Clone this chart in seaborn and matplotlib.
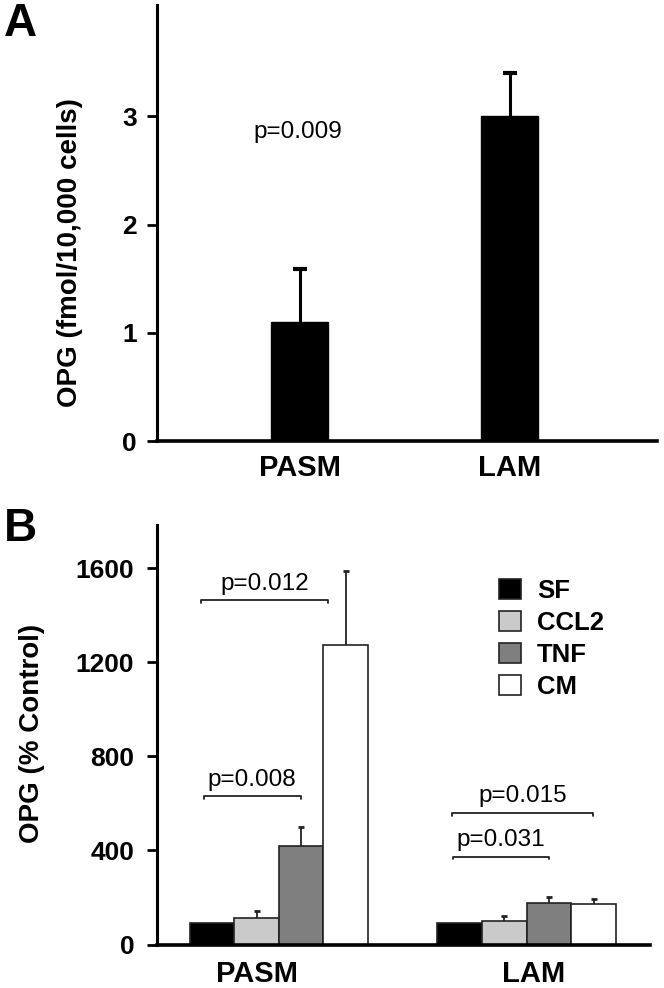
import matplotlib
matplotlib.use("Agg")
import matplotlib.pyplot as plt
import seaborn as sns
import pandas as pd

# panel A
cells = ["PASM", "LAM"]
opg_fmol = [1.1, 3.0]
opg_fmol_err = [0.49, 0.40]

# panel B
treatments = ["SF", "CCL2", "TNF", "CM"]
opg_pasm = [90, 114, 417, 1275]
opg_pasm_err = [0, 28, 82, 313]
opg_lam = [90, 102, 177, 173]
opg_lam_err = [0, 21, 27, 21]
colors = ["#000000", "#cacaca", "#7f7f7f", "#ffffff"]

# brackets: (x0, x1, y, label)
brackets = [(-0.315, 0.198, 1464, "p=0.012"),
            (-0.303, 0.088, 631, "p=0.008"),
            (0.699, 1.268, 560, "p=0.015"),
            (0.702, 1.089, 374, "p=0.031")]

sns.set_style("ticks")
plt.rcParams["font.family"] = ["Liberation Sans", "DejaVu Sans"]
plt.rcParams.update({"text.color": "black", "axes.labelcolor": "black",
                     "xtick.color": "black", "ytick.color": "black",
                     "axes.edgecolor": "black"})

fig = plt.figure(figsize=(6.64, 9.88), dpi=100)


def up_errorbar(ax, bar, e, **kw):
    # one-sided error bar, only the upper cap
    eb = ax.errorbar(bar.get_x() + bar.get_width() / 2, bar.get_height(),
                     yerr=[[0], [e]], fmt="none", **kw)
    eb[1][0].set_visible(False)


# ---------------- panel A ----------------
axA = fig.add_axes([156.5 / 664, 1 - 441 / 988, (657 - 156.5) / 664, (441 - 5) / 988])
sns.barplot(x=cells, y=opg_fmol, color="black", saturation=1, width=0.27,
            edgecolor="black", ax=axA)
for bar, e in zip(list(axA.patches), opg_fmol_err):
    up_errorbar(axA, bar, e, ecolor="black", elinewidth=2.2, capsize=4.8, capthick=3)
axA.set_xlim(-0.68, 1.70)
axA.set_ylim(0, 4.03)
axA.set_yticks([0, 1, 2, 3])
axA.text(-0.01, 2.86, "p=0.009", ha="center", va="center", fontsize=17.5)
axA.set_ylabel("OPG (fmol/10,000 cells)", fontsize=20, fontweight="bold", va="center")
axA.yaxis.set_label_coords(-0.173, 0.433)

# ---------------- panel B ----------------
axB = fig.add_axes([156.5 / 664, 1 - 944.5 / 988, (650 - 156.5) / 664, (944.5 - 525) / 988])
dfB = pd.DataFrame({
    "cell": ["PASM"] * 4 + ["LAM"] * 4,
    "treatment": treatments * 2,
    "value": opg_pasm + opg_lam,
})
sns.barplot(data=dfB, x="cell", y="value", hue="treatment", order=cells,
            hue_order=treatments, palette=colors, saturation=1, width=0.72,
            edgecolor="#222222", linewidth=1.2, errorbar=None, ax=axB)
errs = {"PASM": opg_pasm_err, "LAM": opg_lam_err}
bar_groups = list(axB.containers)
for i, cont in enumerate(bar_groups):
    for j, bar in enumerate(cont):
        e = errs[cells[j]][i]
        if e > 0:
            up_errorbar(axB, bar, e, ecolor="#222222", elinewidth=1.3,
                        capsize=2.5, capthick=2)
for x0, x1, y, lab in brackets:
    axB.plot([x0, x0, x1, x1], [y - 12, y, y, y - 12], color="#222222", lw=1.3)
    axB.text((x0 + x1) / 2, y + 70, lab, ha="center", va="center", fontsize=17.5)
axB.set_xlim(-0.494, 1.498)
axB.set_ylim(0, 1783)
axB.set_yticks([0, 400, 800, 1200, 1600])
axB.set_xticks([-0.089, 1.028])
axB.set_xticklabels(cells)
axB.set_xlabel("")
axB.set_ylabel("OPG (% Control)", fontsize=20, fontweight="bold", va="center")
axB.yaxis.set_label_coords(-0.252, 0.504)
handles, labels = axB.get_legend_handles_labels()
axB.legend(handles[:4], labels[:4], loc="upper left",
           bbox_to_anchor=(499 / 664, 1 - 579 / 988),
           bbox_transform=fig.transFigure, frameon=False, borderpad=0,
           borderaxespad=0, handlelength=0.85, handleheight=0.85,
           handletextpad=0.62, labelspacing=0.3,
           prop={"size": 18.5, "weight": "bold"})

for ax, ypad, xpad in [(axA, 7, 9), (axB, 9, 11)]:
    sns.despine(ax=ax)
    ax.spines["left"].set_linewidth(2.2)
    ax.spines["bottom"].set_linewidth(2.6)
    ax.tick_params(axis="y", length=7, width=2, pad=ypad, labelsize=19)
    ax.tick_params(axis="x", length=0, pad=xpad, labelsize=21)
    for t in ax.get_xticklabels() + ax.get_yticklabels():
        t.set_fontweight("bold")

fig.text(4 / 664, 1 - 2 / 988, "A", fontsize=33, fontweight="bold", ha="left", va="top")
fig.text(4 / 664, 1 - 507 / 988, "B", fontsize=33, fontweight="bold", ha="left", va="top")

fig.savefig("out.png", dpi=100)
